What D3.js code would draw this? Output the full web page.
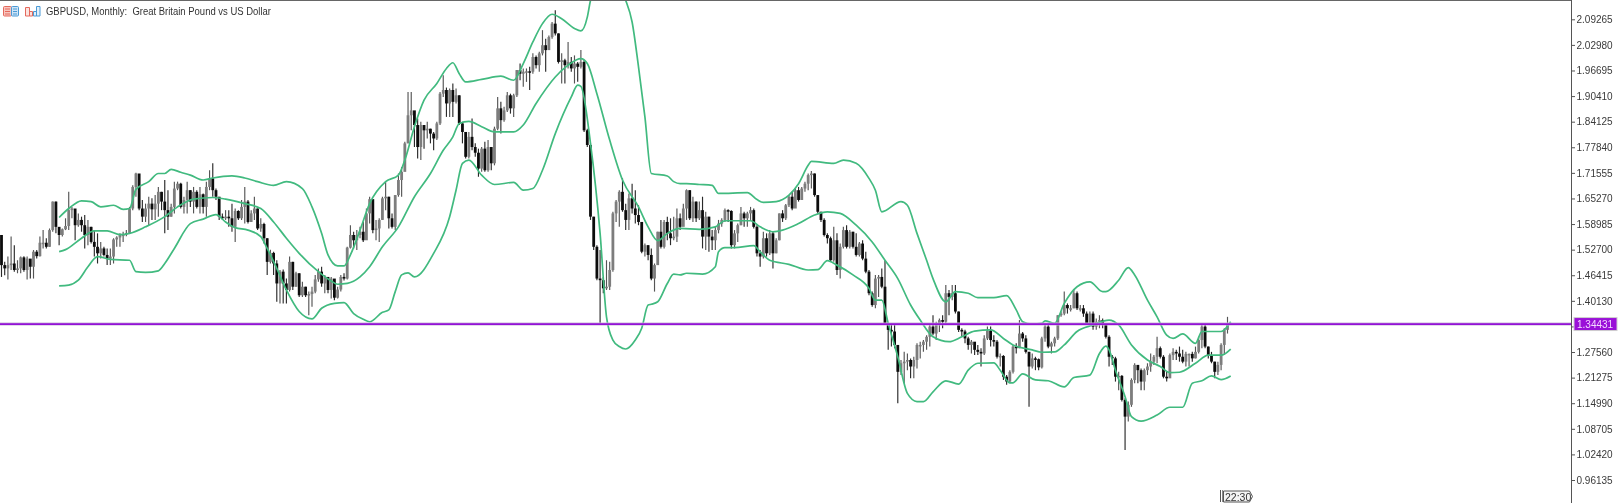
<!DOCTYPE html>
<html><head><meta charset="utf-8">
<script src="https://cdn.jsdelivr.net/npm/d3@7/dist/d3.min.js"></script>
<style>html,body{margin:0;padding:0;background:#fff;overflow:hidden}svg{display:block;filter:blur(.35px)}text{font-family:"Liberation Sans",Arial,sans-serif}</style>
</head><body><svg id="c" width="1620" height="503"></svg>
<script>
const title="GBPUSD, Monthly:  Great Britain Pound vs US Dollar";
const tickValues=[2.09265,2.0298,1.96695,1.9041,1.84125,1.7784,1.71555,1.6527,1.58985,1.527,1.46415,1.4013,1.33845,1.2756,1.21275,1.1499,1.08705,1.0242,0.96135];
const lastPrice=1.34431;
const timeLabel="22:30";
const closes=[1.489,1.481,1.489,1.493,1.477,1.481,1.508,1.477,1.505,1.485,1.522,1.511,1.544,1.544,1.534,1.575,1.645,1.583,1.563,1.577,
1.585,1.624,1.628,1.587,1.600,1.587,1.563,1.583,1.546,1.534,1.518,1.530,1.514,1.505,1.510,1.552,1.557,1.563,1.564,1.568,
1.628,1.681,1.714,1.628,1.608,1.628,1.640,1.626,1.640,1.669,1.645,1.624,1.608,1.632,1.677,1.689,1.632,1.649,1.673,1.645,
1.669,1.632,1.663,1.632,1.681,1.702,1.673,1.657,1.608,1.604,1.608,1.604,1.583,1.622,1.604,1.632,1.645,1.595,1.616,1.628,
1.579,1.590,1.555,1.497,1.519,1.493,1.444,1.473,1.444,1.428,1.497,1.436,1.469,1.415,1.436,1.415,1.418,1.424,1.454,1.473,
1.444,1.460,1.428,1.456,1.409,1.429,1.460,1.456,1.532,1.563,1.550,1.563,1.571,1.550,1.616,1.651,1.575,1.579,1.600,1.653,
1.657,1.604,1.583,1.661,1.698,1.718,1.788,1.857,1.869,1.833,1.779,1.833,1.820,1.824,1.812,1.800,1.837,1.910,1.919,1.886,
1.919,1.890,1.906,1.837,1.816,1.755,1.804,1.779,1.765,1.726,1.775,1.722,1.779,1.739,1.824,1.874,1.845,1.869,1.906,1.874,
1.906,1.968,1.959,1.964,1.965,1.964,2.000,1.980,2.009,2.029,2.017,2.049,2.082,2.058,1.988,1.992,1.980,1.988,1.972,1.984,
1.976,1.988,1.820,1.784,1.608,1.534,1.456,1.452,1.432,1.436,1.477,1.616,1.645,1.669,1.624,1.600,1.653,1.628,1.612,1.595,
1.522,1.538,1.514,1.456,1.489,1.571,1.534,1.595,1.567,1.555,1.559,1.604,1.583,1.628,1.673,1.604,1.645,1.604,1.624,1.559,
1.608,1.559,1.550,1.575,1.591,1.600,1.624,1.622,1.538,1.567,1.587,1.616,1.604,1.616,1.624,1.583,1.518,1.510,1.555,1.518,
1.567,1.518,1.550,1.616,1.604,1.636,1.657,1.628,1.673,1.649,1.677,1.689,1.710,1.714,1.661,1.620,1.600,1.563,1.555,1.501,
1.550,1.477,1.534,1.575,1.534,1.571,1.534,1.514,1.542,1.505,1.473,1.420,1.391,1.456,1.460,1.436,1.346,1.330,1.326,1.293,
1.227,1.248,1.252,1.256,1.240,1.256,1.293,1.293,1.301,1.313,1.338,1.321,1.342,1.354,1.350,1.420,1.411,1.420,1.375,1.330,
1.326,1.309,1.293,1.301,1.281,1.276,1.272,1.309,1.328,1.305,1.301,1.264,1.266,1.215,1.203,1.227,1.289,1.285,1.321,1.309,
1.276,1.240,1.260,1.258,1.238,1.309,1.338,1.289,1.297,1.309,1.366,1.370,1.391,1.383,1.383,1.420,1.383,1.383,1.370,1.346,
1.370,1.338,1.350,1.354,1.342,1.313,1.264,1.260,1.215,1.217,1.158,1.117,1.146,1.207,1.244,1.231,1.203,1.231,1.240,1.252,
1.264,1.285,1.264,1.215,1.211,1.268,1.276,1.272,1.264,1.252,1.271,1.271,1.260,1.276,1.305,1.338,1.289,1.268,1.252,1.227,
1.244,1.293,1.330,1.3443];
const opens=[1.563,1.489,1.481,1.489,1.493,1.477,1.481,1.508,1.477,1.505,1.485,1.522,1.511,1.544,1.544,1.534,1.575,1.645,1.583,1.563,
1.577,1.585,1.624,1.628,1.587,1.600,1.587,1.563,1.583,1.546,1.534,1.518,1.530,1.514,1.505,1.510,1.552,1.557,1.563,1.564,
1.568,1.628,1.681,1.714,1.628,1.608,1.628,1.640,1.626,1.640,1.669,1.645,1.624,1.608,1.632,1.677,1.689,1.632,1.649,1.673,
1.645,1.669,1.632,1.663,1.632,1.681,1.702,1.673,1.657,1.608,1.604,1.608,1.604,1.583,1.622,1.604,1.632,1.645,1.595,1.616,
1.628,1.579,1.590,1.555,1.497,1.519,1.493,1.444,1.473,1.444,1.428,1.497,1.436,1.469,1.415,1.436,1.415,1.418,1.424,1.454,
1.473,1.444,1.460,1.428,1.456,1.409,1.429,1.460,1.456,1.532,1.563,1.550,1.563,1.571,1.550,1.616,1.651,1.575,1.579,1.600,
1.653,1.657,1.604,1.583,1.661,1.698,1.718,1.788,1.857,1.869,1.833,1.779,1.833,1.820,1.824,1.812,1.800,1.837,1.910,1.919,
1.886,1.919,1.890,1.906,1.837,1.816,1.755,1.804,1.779,1.765,1.726,1.775,1.722,1.779,1.739,1.824,1.874,1.845,1.869,1.906,
1.874,1.906,1.968,1.959,1.964,1.965,1.964,2.000,1.980,2.009,2.029,2.017,2.049,2.082,2.058,1.988,1.992,1.980,1.988,1.972,
1.984,1.976,1.988,1.820,1.784,1.608,1.534,1.456,1.452,1.432,1.436,1.477,1.616,1.645,1.669,1.624,1.600,1.653,1.628,1.612,
1.595,1.522,1.538,1.514,1.456,1.489,1.571,1.534,1.595,1.567,1.555,1.559,1.604,1.583,1.628,1.673,1.604,1.645,1.604,1.624,
1.559,1.608,1.559,1.550,1.575,1.591,1.600,1.624,1.622,1.538,1.567,1.587,1.616,1.604,1.616,1.624,1.583,1.518,1.510,1.555,
1.518,1.567,1.518,1.550,1.616,1.604,1.636,1.657,1.628,1.673,1.649,1.677,1.689,1.710,1.714,1.661,1.620,1.600,1.563,1.555,
1.501,1.550,1.477,1.534,1.575,1.534,1.571,1.534,1.514,1.542,1.505,1.473,1.420,1.391,1.456,1.460,1.436,1.346,1.330,1.326,
1.293,1.227,1.248,1.252,1.256,1.240,1.256,1.293,1.293,1.301,1.313,1.338,1.321,1.342,1.354,1.350,1.420,1.411,1.420,1.375,
1.330,1.326,1.309,1.293,1.301,1.281,1.276,1.272,1.309,1.328,1.305,1.301,1.264,1.266,1.215,1.203,1.227,1.289,1.285,1.321,
1.309,1.276,1.240,1.260,1.258,1.238,1.309,1.338,1.289,1.297,1.309,1.366,1.370,1.391,1.383,1.383,1.420,1.383,1.383,1.370,
1.346,1.370,1.338,1.350,1.354,1.342,1.313,1.264,1.260,1.215,1.217,1.158,1.117,1.146,1.207,1.244,1.231,1.203,1.231,1.240,
1.252,1.264,1.285,1.264,1.215,1.211,1.268,1.276,1.272,1.264,1.252,1.271,1.271,1.260,1.276,1.305,1.338,1.289,1.268,1.252,
1.227,1.244,1.293,1.330];
const highs=[1.563,1.497,1.510,1.559,1.538,1.501,1.510,1.511,1.510,1.493,1.526,1.526,1.559,1.575,1.555,1.579,1.645,1.645,1.579,1.579,
1.604,1.669,1.632,1.624,1.616,1.608,1.612,1.600,1.583,1.575,1.567,1.546,1.534,1.530,1.530,1.555,1.560,1.567,1.571,1.575,
1.632,1.685,1.716,1.712,1.649,1.640,1.657,1.653,1.661,1.681,1.669,1.698,1.673,1.640,1.694,1.694,1.691,1.657,1.694,1.673,
1.681,1.673,1.681,1.665,1.694,1.722,1.739,1.677,1.649,1.616,1.624,1.624,1.640,1.628,1.624,1.649,1.681,1.649,1.624,1.657,
1.628,1.604,1.593,1.555,1.527,1.522,1.501,1.477,1.478,1.456,1.510,1.497,1.473,1.469,1.448,1.436,1.424,1.436,1.465,1.481,
1.485,1.465,1.460,1.460,1.432,1.436,1.465,1.469,1.534,1.587,1.571,1.575,1.583,1.595,1.628,1.657,1.645,1.600,1.604,1.657,
1.694,1.657,1.616,1.661,1.714,1.730,1.792,1.914,1.914,1.865,1.849,1.841,1.833,1.841,1.824,1.816,1.841,1.914,1.955,1.925,
1.923,1.935,1.923,1.906,1.841,1.816,1.816,1.849,1.788,1.775,1.779,1.792,1.796,1.779,1.829,1.902,1.890,1.878,1.914,1.910,
1.910,1.968,1.984,1.972,1.972,1.976,2.009,2.004,2.013,2.066,2.045,2.053,2.086,2.115,2.058,2.009,1.996,2.037,2.000,2.004,
1.988,2.017,1.992,1.824,1.788,1.608,1.538,1.526,1.460,1.501,1.497,1.620,1.649,1.673,1.702,1.640,1.665,1.689,1.673,1.636,
1.595,1.542,1.538,1.530,1.493,1.571,1.600,1.600,1.608,1.604,1.608,1.628,1.616,1.640,1.675,1.673,1.657,1.645,1.645,1.657,
1.620,1.608,1.575,1.583,1.600,1.604,1.628,1.626,1.624,1.575,1.591,1.632,1.620,1.620,1.632,1.628,1.587,1.526,1.571,1.567,
1.575,1.571,1.555,1.616,1.624,1.639,1.661,1.669,1.677,1.681,1.681,1.694,1.714,1.720,1.714,1.661,1.620,1.604,1.567,1.559,
1.583,1.567,1.542,1.583,1.587,1.575,1.571,1.567,1.546,1.550,1.522,1.477,1.424,1.465,1.465,1.481,1.501,1.346,1.342,1.346,
1.293,1.256,1.276,1.272,1.260,1.264,1.297,1.301,1.305,1.317,1.342,1.366,1.350,1.358,1.366,1.440,1.428,1.440,1.440,1.375,
1.334,1.330,1.313,1.305,1.297,1.293,1.285,1.317,1.338,1.338,1.317,1.305,1.272,1.268,1.219,1.231,1.293,1.297,1.354,1.325,
1.317,1.276,1.272,1.264,1.260,1.313,1.342,1.342,1.301,1.313,1.366,1.375,1.424,1.395,1.391,1.428,1.424,1.391,1.391,1.375,
1.375,1.375,1.358,1.366,1.358,1.346,1.317,1.268,1.264,1.227,1.219,1.162,1.154,1.211,1.248,1.244,1.235,1.235,1.248,1.272,
1.268,1.313,1.289,1.268,1.227,1.272,1.285,1.281,1.289,1.281,1.276,1.272,1.276,1.289,1.313,1.346,1.342,1.289,1.276,1.252,
1.252,1.297,1.334,1.362];
const lows=[1.460,1.464,1.454,1.477,1.473,1.469,1.469,1.473,1.454,1.456,1.456,1.505,1.510,1.530,1.530,1.534,1.571,1.567,1.538,1.559,
1.575,1.575,1.604,1.550,1.583,1.571,1.530,1.538,1.542,1.510,1.493,1.505,1.510,1.489,1.489,1.493,1.534,1.534,1.546,1.560,
1.567,1.624,1.657,1.624,1.595,1.595,1.587,1.600,1.600,1.608,1.624,1.567,1.575,1.608,1.616,1.673,1.628,1.616,1.616,1.632,
1.616,1.628,1.616,1.616,1.608,1.673,1.657,1.649,1.600,1.600,1.600,1.583,1.571,1.546,1.600,1.600,1.591,1.591,1.595,1.600,
1.575,1.571,1.542,1.465,1.493,1.465,1.399,1.395,1.395,1.395,1.424,1.428,1.436,1.411,1.411,1.411,1.366,1.387,1.420,1.448,
1.436,1.420,1.420,1.407,1.403,1.407,1.424,1.451,1.454,1.530,1.530,1.526,1.555,1.546,1.557,1.591,1.567,1.550,1.546,1.600,
1.624,1.579,1.579,1.575,1.657,1.657,1.722,1.788,1.820,1.779,1.751,1.747,1.775,1.800,1.788,1.771,1.796,1.833,1.902,1.853,
1.853,1.853,1.886,1.833,1.788,1.751,1.751,1.771,1.755,1.706,1.718,1.718,1.718,1.722,1.734,1.820,1.812,1.841,1.865,1.861,
1.853,1.902,1.943,1.927,1.939,1.919,1.959,1.972,1.964,2.004,1.964,2.017,2.045,2.053,1.984,1.935,1.935,1.972,1.964,1.935,
1.939,1.972,1.816,1.779,1.600,1.526,1.452,1.346,1.420,1.428,1.428,1.473,1.595,1.583,1.620,1.575,1.575,1.616,1.591,1.587,
1.518,1.510,1.501,1.452,1.424,1.489,1.530,1.530,1.550,1.538,1.550,1.546,1.575,1.595,1.600,1.600,1.595,1.595,1.600,1.530,
1.526,1.522,1.526,1.526,1.567,1.583,1.595,1.595,1.530,1.530,1.546,1.587,1.583,1.583,1.600,1.579,1.510,1.485,1.505,1.510,
1.514,1.481,1.518,1.550,1.595,1.600,1.632,1.624,1.640,1.645,1.649,1.669,1.673,1.677,1.657,1.616,1.595,1.559,1.542,1.497,
1.497,1.465,1.456,1.530,1.530,1.530,1.530,1.510,1.510,1.501,1.469,1.415,1.387,1.383,1.411,1.432,1.342,1.281,1.289,1.285,
1.150,1.219,1.199,1.231,1.211,1.211,1.235,1.260,1.276,1.281,1.289,1.317,1.305,1.325,1.334,1.346,1.366,1.403,1.370,1.325,
1.313,1.297,1.281,1.272,1.268,1.268,1.240,1.268,1.305,1.289,1.289,1.260,1.240,1.207,1.195,1.199,1.223,1.272,1.285,1.301,
1.272,1.141,1.235,1.231,1.231,1.235,1.301,1.285,1.272,1.289,1.305,1.362,1.366,1.370,1.375,1.383,1.379,1.375,1.362,1.342,
1.342,1.330,1.330,1.334,1.334,1.309,1.240,1.244,1.203,1.182,1.154,1.035,1.105,1.141,1.199,1.199,1.182,1.182,1.219,1.227,
1.244,1.248,1.260,1.211,1.203,1.215,1.256,1.256,1.252,1.248,1.240,1.240,1.252,1.260,1.272,1.285,1.285,1.260,1.248,1.211,
1.219,1.231,1.268,1.321];
const upperBars=[18,21,25,28,31,35,38,40,42,46,49,51,53,56,59,63,66,72,76,80,85,89,94,97,100,102,105,107,109,112,115,120,124,126,129,132,136,139,141,143,145,150,156,160,163,166,169,172,175,179,181,183,184,187,190,193,195,197,199,201,203,208,210,212,214,218,222,224,233,236,238,242,246,249,252,253,260,263,267,271,273,275,281,283,286,289,291,295,298,302,305,310,314,317,319,322,325,326,329,332,336,340,344,345,349,352,354,358,361,364,366,369,373,375,381,384];
const upperVals=[1.606,1.628,1.647,1.645,1.632,1.636,1.626,1.628,1.675,1.694,1.714,1.714,1.724,1.717,1.710,1.698,1.703,1.708,1.703,1.694,1.685,1.694,1.677,1.632,1.567,1.514,1.487,1.487,1.514,1.575,1.640,1.694,1.710,1.747,1.829,1.894,1.935,1.972,1.986,1.959,1.939,1.945,1.953,1.943,1.984,2.037,2.082,2.105,2.094,2.070,2.064,2.098,2.139,2.188,2.197,2.172,2.139,2.086,1.976,1.853,1.714,1.708,1.694,1.689,1.689,1.687,1.685,1.665,1.667,1.650,1.643,1.645,1.661,1.689,1.734,1.744,1.739,1.747,1.739,1.702,1.673,1.620,1.645,1.636,1.567,1.501,1.456,1.399,1.424,1.420,1.409,1.409,1.414,1.379,1.350,1.344,1.346,1.352,1.346,1.395,1.436,1.448,1.424,1.424,1.452,1.483,1.465,1.403,1.362,1.317,1.309,1.320,1.297,1.326,1.326,1.350];
const midBars=[18,20,25,29,33,37,40,45,51,55,60,66,70,76,81,85,89,93,99,103,105,108,112,115,119,124,129,134,138,141,143,146,150,154,160,163,167,173,177,181,183,186,190,194,199,202,205,208,212,218,223,226,234,237,241,244,249,254,258,262,267,272,276,280,284,287,291,296,300,304,309,313,316,322,325,329,332,336,341,346,349,353,358,362,365,368,373,377,381,384];
const midVals=[1.522,1.527,1.555,1.573,1.573,1.564,1.567,1.583,1.608,1.632,1.651,1.655,1.651,1.640,1.628,1.595,1.555,1.518,1.473,1.450,1.442,1.444,1.460,1.485,1.534,1.583,1.657,1.714,1.771,1.804,1.837,1.842,1.829,1.816,1.816,1.833,1.886,1.951,1.980,1.996,1.984,1.910,1.796,1.698,1.632,1.583,1.549,1.567,1.579,1.577,1.583,1.598,1.598,1.583,1.571,1.575,1.591,1.612,1.620,1.616,1.587,1.546,1.501,1.456,1.391,1.354,1.313,1.301,1.313,1.327,1.330,1.309,1.293,1.281,1.275,1.276,1.293,1.326,1.342,1.354,1.342,1.293,1.256,1.240,1.225,1.226,1.248,1.268,1.268,1.283];
const lowerBars=[18,21,24,27,30,34,40,42,45,49,51,54,59,63,67,70,73,77,81,83,86,89,93,97,100,104,107,110,113,115,119,121,123,125,127,129,135,140,142,144,146,150,154,160,163,166,169,173,178,180,181,184,187,189,191,193,195,198,200,202,203,205,208,210,212,214,219,223,224,226,229,235,237,240,246,252,255,258,261,266,271,273,275,277,280,283,286,288,291,295,299,302,305,310,312,315,316,319,323,327,332,335,340,343,345,346,348,351,353,356,361,365,369,372,375,378,381,384];
const lowerVals=[1.438,1.440,1.452,1.485,1.510,1.503,1.501,1.473,1.471,1.475,1.493,1.530,1.591,1.602,1.613,1.595,1.581,1.575,1.559,1.530,1.481,1.428,1.375,1.357,1.383,1.395,1.397,1.370,1.356,1.350,1.373,1.379,1.424,1.465,1.470,1.460,1.518,1.608,1.673,1.739,1.747,1.710,1.687,1.692,1.673,1.677,1.722,1.812,1.902,1.931,1.928,1.788,1.567,1.362,1.305,1.289,1.283,1.305,1.334,1.391,1.393,1.399,1.444,1.467,1.465,1.469,1.467,1.485,1.522,1.532,1.532,1.537,1.522,1.501,1.491,1.477,1.478,1.500,1.489,1.465,1.432,1.403,1.403,1.346,1.264,1.174,1.154,1.154,1.178,1.205,1.197,1.231,1.248,1.249,1.231,1.200,1.200,1.222,1.207,1.205,1.190,1.213,1.219,1.272,1.290,1.281,1.231,1.166,1.117,1.106,1.121,1.140,1.140,1.199,1.205,1.217,1.208,1.217];

const svg=d3.select("#c");
const x=d3.scaleLinear().domain([0,closes.length-1]).range([1.5,1227.5]);
const y=d3.scaleLinear().domain([tickValues[0],tickValues[tickValues.length-1]]).range([19.3,480]);
svg.append("defs").append("clipPath").attr("id","plot").append("rect").attr("x",0).attr("y",1).attr("width",1571).attr("height",502);
const plot=svg.append("g").attr("clip-path","url(#plot)");
const idx=d3.range(closes.length);
plot.append("g").selectAll("line").data(idx).join("line")
 .attr("x1",i=>x(i)).attr("x2",i=>x(i)).attr("y1",i=>y(highs[i])).attr("y2",i=>y(lows[i]))
 .attr("stroke",i=>closes[i]<opens[i]?"#2a2a2a":"#555").attr("stroke-width",1.15);
plot.append("g").selectAll("rect").data(idx).join("rect")
 .attr("x",i=>x(i)-1.4).attr("width",2.8)
 .attr("y",i=>y(Math.max(opens[i],closes[i])))
 .attr("height",i=>Math.max(1.5,Math.abs(y(opens[i])-y(closes[i]))))
 .attr("fill",i=>closes[i]<opens[i]?"#0c0c0c":"#7d7d7d");
const line=d3.line().curve(d3.curveMonotoneX);
[[upperBars,upperVals],[midBars,midVals],[lowerBars,lowerVals]].forEach(([b,v])=>{
 plot.append("path").attr("d",line(b.map((k,j)=>[x(k),y(v[j])]))).attr("fill","none").attr("stroke","#41ba7f").attr("stroke-width",1.7);
});
svg.append("line").attr("x1",0).attr("x2",1572).attr("y1",y(lastPrice)).attr("y2",y(lastPrice)).attr("stroke","#c9b3d8").attr("stroke-width",3);
svg.append("line").attr("x1",0).attr("x2",1572).attr("y1",y(lastPrice)).attr("y2",y(lastPrice)).attr("stroke","#9212d6").attr("stroke-width",1.7);
// frame
svg.append("line").attr("x1",0).attr("x2",1572).attr("y1",.5).attr("y2",.5).attr("stroke","#666");
svg.append("line").attr("x1",1571.5).attr("x2",1571.5).attr("y1",0).attr("y2",503).attr("stroke","#555");
// axis
const ax=svg.append("g").attr("transform","translate(1571.5,0)").call(d3.axisRight(y).tickValues(tickValues).tickFormat(d3.format(".5f")).tickSize(3.5).tickPadding(1.5));
ax.select(".domain").remove();
ax.selectAll("text").attr("font-size",10).attr("fill","#3a3a3a").style("font-family",'"Liberation Sans",Arial,sans-serif');
ax.selectAll("line").attr("stroke","#555");
// price tag
svg.append("rect").attr("x",1574).attr("y",y(lastPrice)-6.5).attr("width",43).attr("height",13).attr("fill","#9a10d8").attr("stroke","#cfcfcf").attr("stroke-width",1);
svg.append("text").attr("x",1577).attr("y",y(lastPrice)+3.6).attr("font-size",10).attr("fill","#f3d8ff").text(lastPrice.toFixed(5));
// title
svg.append("text").attr("x",46).attr("y",15).attr("font-size",10).attr("fill","#333").attr("xml:space","preserve").style("white-space","pre").attr("textLength",225).attr("lengthAdjust","spacingAndGlyphs").text(title);
// icons
const ic=svg.append("g");
ic.append("rect").attr("x",3.5).attr("y",6.5).attr("width",8).attr("height",9.5).attr("rx",1).attr("fill","#f8c6bf").attr("stroke","#e4685c");
ic.append("rect").attr("x",11.5).attr("y",6.5).attr("width",7).attr("height",9.5).attr("rx",1).attr("fill","#cfe4f6").attr("stroke","#4a9ad6");
[9,11.5,14].forEach(v=>{ic.append("line").attr("x1",5).attr("x2",10).attr("y1",v).attr("y2",v).attr("stroke","#e4685c");ic.append("line").attr("x1",13).attr("x2",17).attr("y1",v).attr("y2",v).attr("stroke","#4a9ad6");});
ic.append("path").attr("d","M25.5 7.5h4v8.5h-4zM29.5 11.5h3v4.5h-3z").attr("fill","#fbe3df").attr("stroke","#e4685c");
ic.append("path").attr("d","M33.5 11.5h3v4.5h-3zM36.5 6.5h3.5v9.5h-3.5z").attr("fill","#e3f0fa").attr("stroke","#4a9ad6");
// time marker
svg.append("line").attr("x1",1220.5).attr("x2",1220.5).attr("y1",490).attr("y2",502).attr("stroke","#555");
svg.append("line").attr("x1",1222.5).attr("x2",1222.5).attr("y1",490).attr("y2",502).attr("stroke","#888");
svg.append("path").attr("d","M1223.5 491h26l3 5.5l-3 5.5h-26z").attr("fill","#f4f4f4").attr("stroke","#555");
svg.append("text").attr("x",1225).attr("y",500.5).attr("font-size",10.5).attr("fill","#333").text(timeLabel);
</script></body></html>
